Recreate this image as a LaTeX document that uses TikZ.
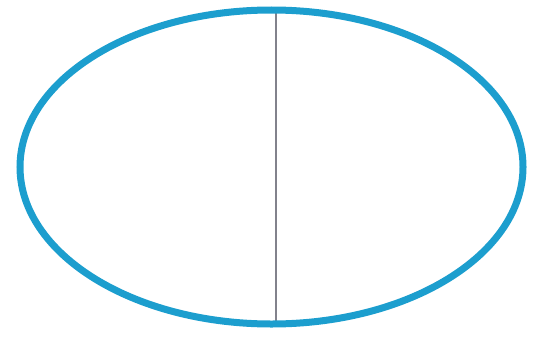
\documentclass[tikz,border=0pt]{standalone}
\definecolor{rim}{RGB}{28,158,206}
\definecolor{axis}{RGB}{130,130,140}
\begin{document}
\begin{tikzpicture}[x=1pt, y=-1pt]
	\useasboundingbox (0, 0) rectangle (537, 337);
	
	\draw[axis, line width=2.5pt] (276, 10) -- (276, 324);
	\draw[rim, line width=7pt] (271.5, 167) ellipse [x radius=251.5, y radius=157];
\end{tikzpicture}
\end{document}
